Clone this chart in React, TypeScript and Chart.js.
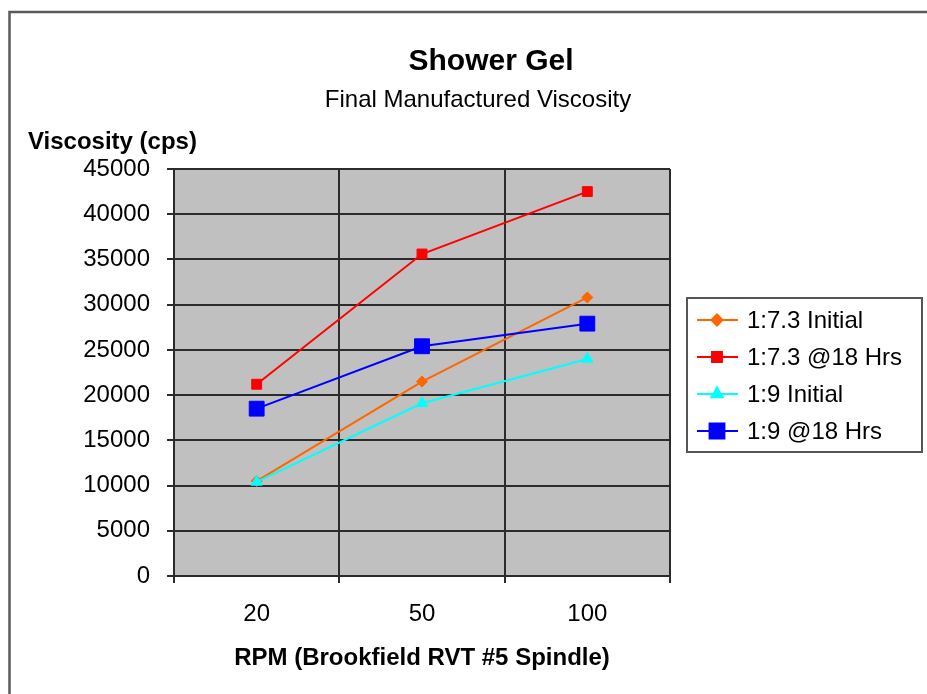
import React, { useEffect, useRef } from 'react';
import { Chart, registerables } from 'chart.js';
import { drawPoint } from 'chart.js/helpers';

Chart.register(...registerables);

// ---- data ----
const categories = ['20', '50', '100'];
const initial73 = [10500, 21500, 30800];
const hrs73 = [21200, 35600, 42500];
const initial9 = [10400, 19100, 24000];
const hrs9 = [18500, 25400, 27900];
const seriesLabels = ['1:7.3 Initial', '1:7.3 @18 Hrs', '1:9 Initial', '1:9 @18 Hrs'];
const yMin = 0;
const yMax = 45000;
const yStep = 5000;
const chartTitle = 'Shower Gel';
const chartSubtitle = 'Final Manufactured Viscosity';
const yTitle = 'Viscosity (cps)';
const xTitle = 'RPM (Brookfield RVT #5 Spindle)';

const FONT = "'Liberation Sans', Arial, Helvetica, sans-serif";

const decorPlugin = {
  id: 'decor',
  beforeDraw(chart: any) {
    const { ctx, chartArea } = chart;
    ctx.save();
    ctx.fillStyle = '#ffffff';
    ctx.fillRect(0, 0, chart.width, chart.height);
    // outer frame
    ctx.strokeStyle = '#5a5a5a';
    ctx.lineWidth = 2.5;
    ctx.beginPath();
    ctx.moveTo(9.5, chart.height + 5);
    ctx.lineTo(9.5, 12);
    ctx.lineTo(chart.width + 5, 12);
    ctx.stroke();
    // plot background
    ctx.fillStyle = '#c0c0c0';
    ctx.fillRect(chartArea.left, chartArea.top, chartArea.right - chartArea.left, chartArea.bottom - chartArea.top);
    ctx.restore();
  },
  afterDraw(chart: any) {
    const { ctx, chartArea } = chart;
    ctx.save();
    ctx.fillStyle = '#000';
    ctx.textBaseline = 'alphabetic';
    // title
    ctx.textAlign = 'center';
    ctx.font = `bold 30px ${FONT}`;
    ctx.fillText(chartTitle, 491, 70);
    ctx.font = `24px ${FONT}`;
    ctx.fillText(chartSubtitle, 478, 107);
    // y title
    ctx.textAlign = 'left';
    ctx.font = `bold 24px ${FONT}`;
    ctx.fillText(yTitle, 28, 149);
    // x title
    ctx.textAlign = 'center';
    ctx.fillText(xTitle, (chartArea.left + chartArea.right) / 2, 665);

    // legend
    const lx = 687, ly = 298, lw = 235, lh = 154;
    ctx.fillStyle = '#ffffff';
    ctx.fillRect(lx, ly, lw, lh);
    ctx.strokeStyle = '#555';
    ctx.lineWidth = 2;
    ctx.strokeRect(lx, ly, lw, lh);
    ctx.font = `24px ${FONT}`;
    ctx.textAlign = 'left';
    ctx.textBaseline = 'middle';
    chart.data.datasets.forEach((ds: any, i: number) => {
      const y = ly + 22 + i * 37;
      ctx.strokeStyle = ds.borderColor;
      ctx.lineWidth = 2;
      ctx.beginPath();
      ctx.moveTo(697, y);
      ctx.lineTo(738, y);
      ctx.stroke();
      ctx.fillStyle = ds.pointBackgroundColor;
      ctx.strokeStyle = ds.pointBorderColor;
      drawPoint(ctx, { pointStyle: ds.pointStyle, radius: ds.pointRadius, rotation: 0, borderWidth: 1 }, 717, y);
      ctx.fillStyle = '#000';
      ctx.fillText(ds.label, 747, y + 1);
    });
    ctx.restore();
  },
};

function makeDataset(label: string, data: number[], color: string, style: string, radius: number, order: number) {
  return {
    label,
    data,
    borderColor: color,
    backgroundColor: color,
    pointBackgroundColor: color,
    pointBorderColor: color,
    pointStyle: style,
    pointRadius: radius,
    pointBorderWidth: 1,
    borderWidth: 2,
    tension: 0,
    order,
  };
}

export default function App() {
  const canvasRef = useRef<HTMLCanvasElement | null>(null);

  useEffect(() => {
    if (!canvasRef.current) return;
    const tickFont = { family: FONT, size: 24 };
    const chart = new Chart(canvasRef.current, {
      type: 'line',
      data: {
        labels: categories,
        datasets: [
          makeDataset(seriesLabels[0], initial73, '#ff6600', 'rectRot', 5.5, 3),
          makeDataset(seriesLabels[1], hrs73, '#ff0000', 'rect', 7, 2),
          makeDataset(seriesLabels[2], initial9, '#00ffff', 'triangle', 6.5, 1),
          makeDataset(seriesLabels[3], hrs9, '#0000ff', 'rect', 10.5, 0),
        ] as any,
      },
      options: {
        responsive: true,
        maintainAspectRatio: false,
        animation: false,
        layout: { padding: { left: 0, top: 169, right: 257, bottom: 58 } },
        plugins: {
          legend: { display: false },
          title: { display: false },
          tooltip: { enabled: false },
        },
        scales: {
          x: {
            type: 'category',
            offset: true,
            grid: { offset: true, color: '#2b2b2b', lineWidth: 2, tickLength: 7, drawTicks: true },
            border: { color: '#2b2b2b', width: 2 },
            ticks: { font: tickFont, color: '#000', padding: 17, maxRotation: 0 },
            afterFit: (scale: any) => { scale.height = 60; },
          },
          y: {
            min: yMin,
            max: yMax,
            grid: { color: '#2b2b2b', lineWidth: 2, tickLength: 7, drawTicks: true },
            border: { color: '#2b2b2b', width: 2 },
            ticks: { stepSize: yStep, font: tickFont, color: '#000', padding: 17, callback: (v: any) => String(v) },
            afterFit: (scale: any) => { scale.width = 174; },
          },
        },
      } as any,
      plugins: [decorPlugin],
    });
    return () => chart.destroy();
  }, []);

  return (
    <div style={{ position: 'fixed', left: 0, top: 0, width: 927, height: 694 }}>
      <canvas ref={canvasRef} />
    </div>
  );
}
